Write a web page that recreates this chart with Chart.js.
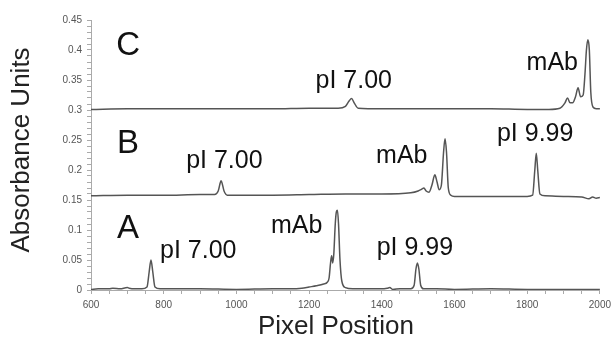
<!DOCTYPE html>
<html>
<head>
<meta charset="utf-8">
<script src="https://cdn.jsdelivr.net/npm/chart.js@4"></script>
<style>
  body { margin: 0; background: #fff; }
</style>
</head>
<body>
<canvas id="cief" width="616" height="346"></canvas>
<script>
// Trace A (bottom electropherogram)
var aX = [600, 620, 650, 660, 680, 700, 705, 720, 740, 754, 760, 765, 770, 776, 790, 850, 900, 1000, 1100, 1150, 1180, 1200, 1220, 1240, 1250, 1255, 1259, 1262, 1265, 1268, 1272, 1275, 1278, 1281, 1285, 1290, 1300, 1320, 1350, 1400, 1415, 1422, 1430, 1450, 1480, 1489, 1494, 1498, 1502, 1507, 1515, 1550, 1600, 1700, 1800, 1900, 2000];
var aY = [0.001, 0.002, 0.002, 0.003, 0.002, 0.004, 0.003, 0.002, 0.002, 0.005, 0.03, 0.05, 0.03, 0.005, 0.002, 0.002, 0.002, 0.001, 0.002, 0.002, 0.003, 0.005, 0.007, 0.010, 0.013, 0.02, 0.045, 0.057, 0.045, 0.06, 0.11, 0.13, 0.133, 0.11, 0.05, 0.015, 0.004, 0.002, 0.002, 0.002, 0.003, 0.004, 0.001, 0.002, 0.002, 0.008, 0.035, 0.045, 0.035, 0.008, 0.002, 0.002, 0.001, 0.002, 0.001, 0.001, 0.001];

// Trace B (middle)
var bX = [600, 700, 800, 900, 940, 950, 958, 966, 975, 1000, 1100, 1200, 1300, 1400, 1480, 1500, 1510, 1516, 1522, 1530, 1538, 1546, 1552, 1558, 1564, 1570, 1574, 1578, 1583, 1590, 1600, 1700, 1800, 1815, 1821, 1825, 1829, 1835, 1850, 1900, 1950, 1970, 1980, 1990, 2000];
var bY = [0.157, 0.158, 0.158, 0.159, 0.159, 0.165, 0.182, 0.165, 0.158, 0.158, 0.158, 0.159, 0.160, 0.160, 0.162, 0.165, 0.168, 0.170, 0.165, 0.163, 0.175, 0.192, 0.180, 0.167, 0.175, 0.23, 0.252, 0.23, 0.17, 0.158, 0.156, 0.156, 0.156, 0.158, 0.20, 0.228, 0.20, 0.160, 0.157, 0.156, 0.155, 0.152, 0.155, 0.153, 0.154];

// Trace C (top)
var cX = [600, 700, 800, 900, 1000, 1100, 1200, 1280, 1300, 1310, 1317, 1324, 1335, 1400, 1500, 1600, 1700, 1800, 1860, 1890, 1904, 1911, 1918, 1925, 1933, 1940, 1947, 1954, 1959, 1963, 1967, 1971, 1975, 1981, 1990, 2000];
var cY = [0.301, 0.302, 0.302, 0.302, 0.302, 0.302, 0.303, 0.303, 0.306, 0.315, 0.319, 0.312, 0.303, 0.302, 0.302, 0.302, 0.302, 0.301, 0.301, 0.303, 0.312, 0.320, 0.312, 0.312, 0.322, 0.337, 0.322, 0.325, 0.36, 0.40, 0.417, 0.40, 0.33, 0.305, 0.302, 0.302];

// Tick labels of the axes
var xTickLabels = [600, 800, 1000, 1200, 1400, 1600, 1800, 2000];
var yTickLabels = ['0', '0.05', '0.1', '0.15', '0.2', '0.25', '0.3', '0.35', '0.4', '0.45'];

// Text labels on the plot (position in data units)
var labels = [
    { text: 'C', x: 702, y: 0.392, big: true },
    { text: 'pI 7.00', x: 1323, y: 0.337 },
    { text: 'mAb', x: 1869, y: 0.367 },
    { text: 'B', x: 702, y: 0.228, big: true },
    { text: 'pI 7.00', x: 967, y: 0.203 },
    { text: 'mAb', x: 1455, y: 0.212 },
    { text: 'pI 9.99', x: 1822, y: 0.248 },
    { text: 'A', x: 702, y: 0.087, big: true },
    { text: 'pI 7.00', x: 895, y: 0.053 },
    { text: 'mAb', x: 1166, y: 0.095 },
    { text: 'pI 9.99', x: 1491, y: 0.058 }
];

function toPoints(xs, ys) {
    return xs.map(function (x, i) { return { x: x, y: ys[i] }; });
}

function trace(name, xs, ys) {
    return {
        label: name,
        data: toPoints(xs, ys),
        borderColor: '#555',
        borderWidth: 1.5,
        pointRadius: 0,
        fill: false,
        cubicInterpolationMode: 'monotone'
    };
}

var fontName = '"Liberation Sans", Arial, sans-serif';

// Draws the A/B/C letters, peak names and the two axis titles
var textPlugin = {
    id: 'peakText',
    afterDatasetsDraw: function (chart) {
        var ctx = chart.ctx;
        var xs = chart.scales.x, ys = chart.scales.y;
        ctx.save();
        ctx.fillStyle = '#111';
        ctx.textAlign = 'center';
        ctx.textBaseline = 'alphabetic';
        labels.forEach(function (l) {
            ctx.font = (l.big ? '33px ' : '25px ') + fontName;
            ctx.fillText(l.text, xs.getPixelForValue(l.x), ys.getPixelForValue(l.y));
        });

        // axis titles
        ctx.fillStyle = '#222';
        ctx.font = '26px ' + fontName;
        ctx.textBaseline = 'middle';
        ctx.fillText('Pixel Position', 336, 327);
        ctx.translate(22, 150);
        ctx.rotate(-Math.PI / 2);
        ctx.fillText('Absorbance Units', 0, 0);
        ctx.restore();
    }
};

var tickFont = { family: fontName, size: 10 };

new Chart(document.getElementById('cief').getContext('2d'), {
    type: 'line',
    data: {
        datasets: [trace('A', aX, aY), trace('B', bX, bY), trace('C', cX, cY)]
    },
    options: {
        responsive: false,
        animation: false,
        layout: { padding: { top: 20, right: 16, left: 0, bottom: 0 } },
        plugins: {
            legend: { display: false },
            tooltip: { enabled: false }
        },
        scales: {
            x: {
                type: 'linear',
                min: 600,
                max: 2000,
                afterFit: function (s) { s.height = 56; },
                border: { color: '#aaa', width: 1 },
                grid: { drawOnChartArea: false, tickLength: 4, tickColor: '#aaa' },
                ticks: {
                    stepSize: 50,
                    autoSkip: false,
                    maxRotation: 0,
                    padding: 5,
                    color: '#555',
                    font: tickFont,
                    callback: function (v) {
                        return xTickLabels.indexOf(v) >= 0 ? String(v) : '';
                    }
                }
            },
            y: {
                min: 0,
                max: 0.45,
                afterFit: function (s) { s.width = 91; },
                border: { color: '#aaa', width: 1 },
                grid: { drawOnChartArea: false, tickLength: 4, tickColor: '#aaa' },
                ticks: {
                    stepSize: 0.01,
                    autoSkip: false,
                    maxTicksLimit: 100,
                    padding: 5,
                    color: '#555',
                    font: tickFont,
                    callback: function (v) {
                        var s = String(Number(v.toFixed(2)));
                        return yTickLabels.indexOf(s) >= 0 ? s : '';
                    }
                }
            }
        }
    },
    plugins: [textPlugin]
});
</script>
</body>
</html>
